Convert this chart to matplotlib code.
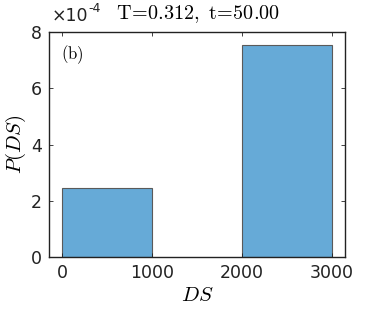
import matplotlib
matplotlib.use("Agg")
import matplotlib.pyplot as plt

bin_edges = [0, 1000, 2000, 3000]
prob = [2.45e-4, 0.0, 7.55e-4]
scale = 1e-4
xticks = [0, 1000, 2000, 3000]
yticks = [0, 2, 4, 6, 8]

plt.rcParams['mathtext.fontset'] = 'cm'
fig = plt.figure(figsize=(3.82, 3.14), dpi=100)
ax = fig.add_axes([49/382, 1-257/314, (345-49)/382, (257-32)/314])

for i, p in enumerate(prob):
    if p > 0:
        ax.bar(bin_edges[i], p/scale, width=bin_edges[i+1]-bin_edges[i], align='edge',
               color='#66aad7', edgecolor='#5a5a5a', linewidth=0.8)

ax.set_xlim(-150, 3150)
ax.set_ylim(0, 8)
ax.set_xticks(xticks)
ax.set_yticks(yticks)
ax.tick_params(direction='in', top=True, right=True, length=3, width=0.6,
               labelsize=12.5, colors='#222222', pad=5)
for s in ax.spines.values():
    s.set_linewidth(1.0)
    s.set_color('#222222')

ax.set_xlabel(r'$DS$', fontsize=15, labelpad=2)
ax.set_ylabel(r'$P(DS)$', fontsize=15, labelpad=2)
ax.text(0.04, 0.95, r'$\mathrm{(b)}$', transform=ax.transAxes, fontsize=12, va='top', ha='left')
fig.text(52/382, 1-16/314, '×10', fontsize=12.5, va='center', ha='left', family='DejaVu Sans', color='#222222')
fig.text(88/382, 1-9/314, '-4', fontsize=9, va='center', ha='left', family='DejaVu Sans', color='#222222')
fig.text(116/382, 1-14/314, r'$\mathrm{T\!=\!0.312,\ t\!=\!50.00}$', fontsize=14.5, va='center', ha='left')

fig.savefig('out.png', dpi=100)
